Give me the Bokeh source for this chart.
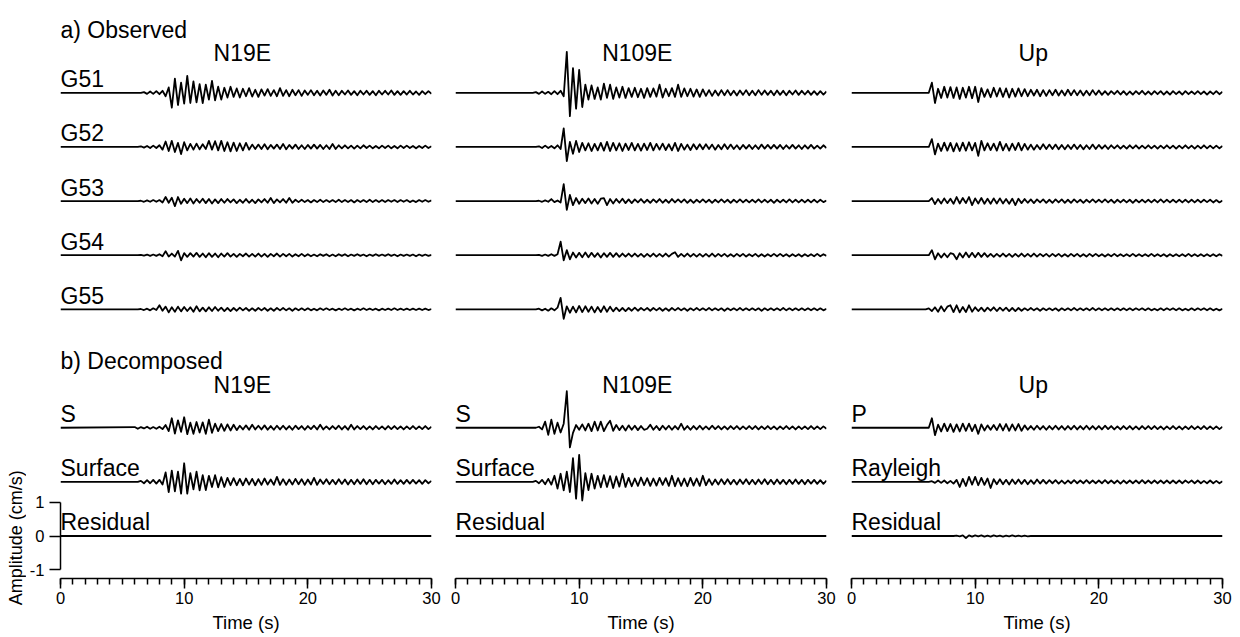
import math
from bokeh.plotting import figure
from bokeh.layouts import row
from bokeh.models import Range1d, FixedTicker, SingleIntervalTicker
from bokeh.core.properties import value
from bokeh.embed import file_html
from bokeh.resources import INLINE

FONT = "Liberation Sans"

# ---------------- data ----------------
# every trace is sampled from T_START to 30 s every DT seconds and is at rest before
T_START = 6.0
DT = 0.25
UNIT = 0.01   # amplitudes below are stored in 0.01 cm/s

components = ["N19E", "N109E", "Up"]
stations = ["G51", "G52", "G53", "G54", "G55"]
decomposed_names = [["S", "Surface", "Residual"],
                    ["S", "Surface", "Residual"],
                    ["P", "Rayleigh", "Residual"]]
amp_ticks = [-1, 0, 1]
amp_tick_labels = ["-1", "0", "1"]

G51_N19E = [0, 0, 0, 2, -3, 4, -3, 5,
            -4, 6, -10, 16, -44, 42, -36, 30,
            -32, 50, -30, 34, -28, 26, -30, 24,
            -20, 35, -22, 18, -20, 15, -14, 18,
            -12, 13, -14, 12, -10, 14, -11, 9,
            -12, 10, -8, 11, -9, 8, -10, 14,
            -9, 8, -10, 9, -7, 8, -9, 7,
            -6, 8, -7, 6, -8, 7, -6, 9,
            -8, 6, -7, 6, -5, 7, -6, 5,
            -7, 6, -5, 6, -6, 5, -7, 6,
            -5, 6, -5, 7, -6, 5, -6, 5,
            -5, 6, -5, 4, -6, 5, -4, 5,
            -3]
G52_N19E = [0, 0, 2, -2, 3, -3, 4, -3,
            5, -8, 16, -12, 18, -15, 12, -21,
            14, -10, 9, -8, 10, -7, 8, -6,
            18, -8, 17, -10, 18, -12, 14, -13,
            13, -12, 11, -10, 12, -8, 7, -6,
            7, -6, 8, -7, 6, -5, 7, -6,
            9, -7, 6, -5, 7, -6, 5, -6,
            6, -5, 7, -5, 6, -6, 5, -6,
            9, -6, 5, -4, 5, -4, 4, -5,
            4, -4, 5, -3, 4, -4, 3, -4,
            4, -3, 4, -4, 3, -4, 4, -3,
            4, -3, 3, -4, 3, -3, 4, -3,
            2]
G53_N19E = [0, 0, 1, -2, 2, -2, 3, -2,
            3, -4, 12, -5, 10, -15, 12, -8,
            7, -6, 8, -7, 6, -5, 7, -6,
            6, -7, 5, -6, 6, -5, 6, -4,
            5, -6, 4, -5, 6, -5, 4, -6,
            5, -4, 6, -5, 9, -6, 5, -4,
            6, -5, 9, -5, 4, -3, 4, -3,
            3, -4, 3, -3, 4, -3, 3, -3,
            3, -3, 4, -3, 3, -3, 3, -4,
            3, -3, 3, -3, 4, -3, 3, -3,
            3, -3, 3, -2, 3, -3, 3, -2,
            3, -3, 2, -3, 3, -2, 3, -2,
            2]
G54_N19E = [0, 0, 1, -1, 2, -2, 2, -2,
            3, -3, 12, -4, 5, -4, 13, -15,
            6, -5, 6, -4, 7, -5, 5, -6,
            6, -5, 5, -6, 5, -4, 6, -4,
            4, -5, 4, -3, 5, -4, 4, -4,
            5, -4, 4, -5, 4, -3, 5, -4,
            4, -3, 4, -4, 3, -3, 4, -3,
            3, -3, 2, -3, 3, -2, 3, -3,
            2, -3, 3, -2, 3, -3, 2, -2,
            3, -2, 2, -3, 2, -2, 3, -2,
            2, -2, 3, -2, 2, -3, 2, -2,
            2, -2, 2, -3, 2, -2, 2, -2,
            1]
G55_N19E = [0, 0, 1, -2, 2, -3, 3, -2,
            12, -4, 8, -9, 6, -7, 8, -6,
            7, -5, 6, -7, 9, -6, 5, -6,
            6, -5, 7, -4, 5, -5, 4, -5,
            4, -4, 5, -3, 4, -4, 3, -4,
            4, -3, 4, -4, 3, -4, 4, -3,
            4, -3, 3, -4, 3, -3, 3, -3,
            3, -3, 2, -3, 3, -2, 3, -2,
            2, -3, 2, -2, 3, -2, 2, -3,
            2, -2, 3, -2, 2, -2, 2, -3,
            2, -2, 2, -2, 3, -2, 2, -2,
            2, -2, 2, -2, 2, -2, 2, -2,
            1]
S_N19E = [2, -3, 2, -2, 3, -3, 2, -3,
          3, -4, 8, -10, 28, -17, 22, -12,
          31, -19, 15, -18, 17, -14, 16, -18,
          24, -15, 12, -10, 11, -9, 10, -8,
          9, -7, 6, -5, 7, -6, 9, -5,
          6, -5, 7, -6, 5, -6, 6, -5,
          6, -5, 5, -6, 6, -4, 5, -6,
          5, -4, 6, -5, 9, -5, 4, -5,
          5, -4, 6, -5, 5, -6, 9, -5,
          5, -4, 5, -5, 4, -5, 5, -4,
          4, -5, 5, -4, 5, -4, 4, -5,
          4, -4, 5, -4, 4, -4, 5, -4,
          3]
SURF_N19E = [0, 0, 3, -4, 5, -4, 6, -5,
             6, -8, 28, -30, 33, -28, 30, -35,
             55, -35, 26, -22, 30, -25, 20, -24,
             18, -15, 20, -16, 14, -15, 12, -10,
             11, -10, 9, -10, 10, -8, 9, -10,
             8, -9, 10, -8, 7, -9, 15, -9,
             8, -9, 7, -8, 9, -7, 8, -9,
             7, -8, 12, -9, 7, -6, 8, -7,
             6, -7, 8, -6, 7, -8, 6, -7,
             7, -6, 8, -7, 6, -7, 6, -5,
             6, -7, 5, -6, 7, -6, 5, -6,
             6, -5, 6, -5, 5, -6, 5, -4,
             3]
RES_N19E = [0, 0, 0, 0, 0, 0, 0, 0,
            0, 0, 0, 0, 0, 0, 0, 0,
            0, 0, 0, 0, 0, 0, 0, 0,
            0, 0, 0, 0, 0, 0, 0, 0,
            0, 0, 0, 0, 0, 0, 0, 0,
            0, 0, 0, 0, 0, 0, 0, 0,
            0, 0, 0, 0, 0, 0, 0, 0,
            0, 0, 0, 0, 0, 0, 0, 0,
            0, 0, 0, 0, 0, 0, 0, 0,
            0, 0, 0, 0, 0, 0, 0, 0,
            0, 0, 0, 0, 0, 0, 0, 0,
            0, 0, 0, 0, 0, 0, 0, 0,
            0]

G51_N109E = [0, 0, 2, -3, 4, -3, 3, -4,
             5, -4, 6, -10, 121, -69, 73, -47,
             68, -42, 24, -20, 22, -18, 16, -20,
             27, -15, 24, -18, 16, -14, 18, -15,
             14, -12, 15, -13, 12, -15, 14, -12,
             13, -11, 24, -14, 12, -10, 14, -12,
             24, -12, 13, -10, 12, -11, 10, -12,
             10, -9, 8, -9, 7, -8, 8, -7,
             8, -7, 6, -8, 7, -6, 8, -7,
             6, -7, 8, -6, 7, -6, 6, -7,
             7, -6, 6, -7, 6, -5, 7, -6,
             6, -5, 6, -6, 5, -6, 5, -5,
             4]
G52_N109E = [0, 0, 0, 2, -3, 4, -3, 3,
             -4, 5, -6, 55, -42, 15, -20, 18,
             -15, 12, -10, 11, -12, 9, -10, 12,
             -11, 15, -12, 12, -10, 11, -12, 10,
             -9, 12, -10, 9, -11, 10, -9, 12,
             -10, 9, -8, 10, -9, 8, -10, 12,
             -12, 9, -8, 7, -9, 8, -7, 8,
             -7, 8, -6, 7, -8, 6, -7, 8,
             -6, 7, -6, 5, -7, 6, -5, 6,
             -6, 5, -6, 7, -5, 6, -5, 6,
             -5, 6, -6, 5, -5, 6, -5, 5,
             -6, 5, -5, 6, -5, 4, -5, 5,
             -3]
G53_N109E = [0, 0, 0, 1, -2, 2, -2, 6,
             -3, 2, -4, 50, -26, 18, -12, 9,
             -8, 7, -6, 8, -7, 6, -8, 7,
             9, -12, 6, -7, 6, -5, 7, -6,
             5, -6, 5, -4, 6, -5, 4, -5,
             5, -4, 6, -5, 4, -5, 6, -4,
             5, -4, 5, -5, 4, -5, 4, -4,
             5, -4, 4, -5, 4, -4, 5, -4,
             4, -5, 4, -4, 5, -4, 4, -4,
             4, -4, 5, -4, 4, -4, 4, -5,
             4, -4, 4, -4, 5, -4, 4, -4,
             4, -4, 4, -4, 4, -4, 4, -3,
             2]
G54_N109E = [0, 0, 0, 1, -2, 2, -2, 3,
             -2, 3, 40, -15, 15, -12, 8, -7,
             7, -6, 8, -6, 7, -5, 6, -7,
             6, -5, 7, -5, 6, -5, 5, -4,
             5, -4, 5, -4, 4, -5, 4, -4,
             5, -4, 4, -4, 5, -4, 4, 9,
             -5, 4, -4, 5, -4, 4, -4, 4,
             -4, 4, -4, 5, -4, 4, -3, 4,
             -4, 3, -4, 4, -3, 4, -4, 3,
             -3, 4, -4, 3, -4, 3, -3, 4,
             -3, 4, -3, 3, -4, 3, -3, 3,
             -4, 3, -3, 3, -3, 4, -3, 3,
             -2]
G55_N109E = [0, 0, 0, 2, -3, 2, -4, 3,
             -3, 5, 34, -28, 9, -10, 8, -9,
             10, -8, 9, -7, 8, -9, 7, -8,
             9, -7, 8, -6, 5, -5, 4, -5,
             4, -4, 5, -4, 4, -3, 4, -4,
             4, -3, 4, -4, 3, -4, 4, -3,
             4, -3, 3, -4, 3, -3, 4, -3,
             3, -3, 4, -3, 3, -3, 3, -4,
             3, -3, 3, -3, 4, -3, 3, -3,
             3, -3, 3, -4, 3, -3, 3, -3,
             3, -3, 4, -3, 3, -3, 3, -3,
             3, -3, 3, -3, 3, -3, 3, -3,
             2]
S_N109E = [0, 0, 0, 3, -5, 18, -21, 24,
           -18, 15, -14, 12, 108, -58, -15, 8,
           -6, 10, -8, 12, -10, 18, -8, 18,
           -10, 8, 21, -9, 8, -7, 6, -8,
           7, -6, 6, -7, 5, -6, -3, 9,
           -6, 5, -7, 6, -5, 6, -6, 5,
           -5, 12, -6, 5, -6, 5, -5, 6,
           -5, 4, -5, 6, -4, 5, -5, 4,
           -5, 5, -4, 5, -5, 4, -4, 5,
           -4, 5, -5, 4, -4, 5, -4, 4,
           -5, 4, -4, 5, -4, 4, -5, 4,
           -4, 4, -4, 5, -4, 4, -4, 4,
           -3]
SURF_N109E = [0, 0, 3, -4, 6, -7, 9, -8,
              18, -20, 24, -25, 30, -30, 70, -50,
              80, -55, 26, -24, 24, -20, 18, -16,
              20, -15, 17, -18, 16, -14, 24, -15,
              12, -13, 10, -12, 13, -10, 11, -12,
              10, -11, 12, -9, 11, -12, 18, -13,
              11, -12, 10, -13, 12, -11, 10, -12,
              18, -10, 8, -9, 7, -8, 8, -7,
              8, -7, 6, -8, 7, -6, 8, -7,
              6, -7, 7, -6, 8, -7, 6, -7,
              7, -6, 6, -7, 6, -6, 7, -6,
              6, -7, 6, -5, 6, -6, 5, -6,
              4]
RES_N109E = [0, 0, 0, 0, 0, 0, 0, 0,
             0, 0, 0, 0, 0, 0, 0, 0,
             0, 0, 0, 0, 0, 0, 0, 0,
             0, 0, 0, 0, 0, 0, 0, 0,
             0, 0, 0, 0, 0, 0, 0, 0,
             0, 0, 0, 0, 0, 0, 0, 0,
             0, 0, 0, 0, 0, 0, 0, 0,
             0, 0, 0, 0, 0, 0, 0, 0,
             0, 0, 0, 0, 0, 0, 0, 0,
             0, 0, 0, 0, 0, 0, 0, 0,
             0, 0, 0, 0, 0, 0, 0, 0,
             0, 0, 0, 0, 0, 0, 0, 0,
             0]

G51_UP = [0, 0, 30, -30, 12, -15, 18, -14,
          17, -15, 16, -18, 15, -14, 18, -16,
          18, -27, 14, -12, 10, -13, 15, -11,
          14, -12, 13, -14, 12, -11, 13, -10,
          11, -10, 9, -8, 9, -10, 8, -9,
          8, -7, 9, -8, 7, -8, 9, -7,
          8, -7, 7, -8, 6, -7, 8, -6,
          7, -6, 5, -6, 5, -4, 6, -5,
          5, -6, 4, -5, 5, -4, 6, -5,
          4, -5, 5, -4, 5, -5, 4, -5,
          5, -4, 4, -5, 5, -4, 4, -4,
          5, -4, 4, -5, 4, -4, 5, -4,
          3]
G52_UP = [0, 0, 23, -22, 10, -12, 13, -11,
          12, -13, 11, -12, 13, -11, 14, -10,
          12, -26, 18, -10, 11, -9, 10, -11,
          15, -10, 9, -11, 10, -9, 12, -10,
          9, -8, 7, -8, 6, -7, 8, -6,
          7, -6, 7, -7, 6, -7, 6, -6,
          7, -6, 6, -7, 5, -6, 7, -6,
          6, -5, 5, -6, 5, -4, 5, -5,
          4, -5, 5, -4, 5, -5, 4, -4,
          5, -4, 4, -5, 4, -4, 5, -4,
          4, -5, 4, -4, 5, -4, 4, -5,
          4, -4, 5, -4, 4, -4, 4, -4,
          3]
G53_UP = [0, 0, 9, -9, 6, -7, 8, -6,
          7, -8, 12, -7, 9, -6, 12, -12,
          8, -7, 9, -8, 7, -8, 8, -7,
          8, -7, 6, -8, 7, -12, 7, -6,
          6, -5, 5, -6, 5, -4, 5, -5,
          4, -5, 5, -4, 5, -5, 4, -5,
          5, -4, 4, -5, 4, -4, 5, -4,
          4, -4, 5, -4, 4, -5, 4, -4,
          4, -4, 4, -5, 4, -4, 4, -4,
          4, -4, 4, -4, 5, -4, 4, -4,
          4, -4, 4, -4, 4, -4, 4, -4,
          4, -4, 4, -3, 4, -4, 3, -4,
          2]
G54_UP = [0, 0, 15, -12, 6, -7, 5, -6,
          6, 3, -12, 6, -7, 8, -6, 7,
          -6, 7, -5, 6, -5, 4, -5, 4,
          -4, 5, -4, 4, -5, 4, -4, 5,
          -4, 4, -4, 5, -4, 4, -3, 4,
          -4, 4, -3, 4, -4, 3, -4, 4,
          -3, 4, -4, 3, -4, 4, -3, 4,
          -3, 3, -4, 3, -3, 4, -3, 3,
          -3, 3, -3, 4, -3, 3, -3, 3,
          -3, 4, -3, 3, -3, 3, -4, 3,
          -3, 3, -3, 3, -3, 4, -3, 3,
          -3, 3, -3, 3, -3, 3, -3, 3,
          -2]
G55_UP = [0, 3, -5, 6, -7, 9, -6, 8,
          12, -8, 12, -9, 7, -8, 12, -7,
          6, -5, 5, -6, 5, -4, 6, -5,
          5, -4, 5, -5, 4, -5, 4, -4,
          3, -3, 4, -3, 3, -4, 3, -3,
          3, -3, 3, -4, 3, -3, 3, -3,
          4, -3, 3, -3, 3, -3, 4, -3,
          3, -3, 3, -3, 3, -3, 3, -3,
          3, -3, 3, -3, 3, -2, 3, -3,
          3, -3, 2, -3, 3, -3, 3, -2,
          3, -3, 3, -3, 2, -3, 3, -3,
          3, -2, 3, -3, 3, -3, 2, -3,
          2]
P_UP = [0, 0, 28, -22, 9, -11, 12, -10,
        11, -12, 10, -11, 12, -9, 12, -10,
        9, -18, 10, -8, 7, -6, 8, -7,
        11, -8, 11, -9, 10, -8, 11, -9,
        7, -6, 5, -6, 6, -5, 5, -6,
        5, -5, 6, -5, 5, -6, 5, -5,
        6, -5, 5, -5, 6, -5, 5, -5,
        5, -5, 6, -4, 5, -5, 4, -5,
        5, -4, 5, -5, 4, -5, 5, -4,
        5, -4, 5, -4, 4, -5, 4, -4,
        5, -4, 4, -5, 4, -4, 5, -4,
        4, -4, 5, -4, 4, -4, 4, -4,
        3]
RAY_UP = [0, 0, 2, -3, 4, -3, 4, -4,
          3, -5, 6, -15, 9, -12, 15, -8,
          15, -10, 12, -9, 10, -18, 8, -7,
          8, -7, 6, -8, 7, -6, 7, -6,
          6, -7, 5, -6, 7, -5, 6, -5,
          5, -4, 5, -5, 4, -5, 4, -4,
          5, -4, 4, -4, 5, -4, 4, -4,
          4, -4, 5, -4, 4, -4, 4, -5,
          4, -4, 4, -4, 4, -4, 5, -4,
          4, -4, 4, -4, 4, -4, 4, -4,
          4, -4, 4, -4, 4, -3, 4, -4,
          4, -4, 3, -4, 4, -4, 3, -4,
          2]
RES_UP = [0, 0, 0, 0, 0, 0, 0, 0,
          0, 0, 1, -1, 2, -6, 2, -2,
          2, -1, 2, -2, 1, -2, 2, -1,
          1, -2, 1, -1, 2, -1, 1, -1,
          1, -1, 0, 0, 0, 0, 0, 0,
          0, 0, 0, 0, 0, 0, 0, 0,
          0, 0, 0, 0, 0, 0, 0, 0,
          0, 0, 0, 0, 0, 0, 0, 0,
          0, 0, 0, 0, 0, 0, 0, 0,
          0, 0, 0, 0, 0, 0, 0, 0,
          0, 0, 0, 0, 0, 0, 0, 0,
          0, 0, 0, 0, 0, 0, 0, 0,
          0]

observed = [[G51_N19E, G52_N19E, G53_N19E, G54_N19E, G55_N19E],
            [G51_N109E, G52_N109E, G53_N109E, G54_N109E, G55_N109E],
            [G51_UP, G52_UP, G53_UP, G54_UP, G55_UP]]
decomposed = [[S_N19E, SURF_N19E, RES_N19E],
              [S_N109E, SURF_N109E, RES_N109E],
              [P_UP, RAY_UP, RES_UP]]

# ---------------- layout (cm/s offsets of each record, screen sizes) ----------------
OBS_BASE = [13.1, 11.5, 9.9, 8.3, 6.7]
DEC_BASE = [3.2, 1.6, 0.0]
LABEL_LIFT = 0.4
OBS_TITLE_Y, OBS_HEAD_Y = 14.27, 14.96
DEC_TITLE_Y, DEC_HEAD_Y = 4.45, 5.17
TITLE_X = 14.7
Y0, Y1 = -1.256, 15.593
FRAME_W, FRAME_H = 371, 570
PX_PER_UNIT = FRAME_H / (Y1 - Y0)
TOP, BOTTOM = 8, 59
BORDERS = [(32, 12), (12, 12), (13, 10)]
LEFT_STRIP = 26
LABEL_SIZE = "23px"


def trace_xy(vals, base):
    xs = [0.0]
    ys = [base]
    for k, v in enumerate(vals):
        t = T_START + DT * k
        if t > 30.0001:
            break
        xs.append(t)
        ys.append(base + v * UNIT)
    return xs, ys


def clean(p):
    p.background_fill_color = "white"
    p.border_fill_color = "white"
    p.outline_line_color = None
    p.grid.visible = False


# narrow strip carrying the rotated amplitude-axis title (frame reaches the bottom edge)
p0 = figure(title=None, frame_width=LEFT_STRIP, frame_height=FRAME_H + BOTTOM,
            x_range=Range1d(0, LEFT_STRIP),
            y_range=Range1d(Y0 - BOTTOM / PX_PER_UNIT, Y1),
            output_backend="svg", toolbar_location=None, tools="",
            x_axis_location=None, y_axis_location=None, min_border=0,
            min_border_left=0, min_border_right=0,
            min_border_top=TOP, min_border_bottom=0)
clean(p0)
p0.text(x=[15.3], y=[-0.05], text=["Amplitude (cm/s)"], angle=[math.pi / 2],
        text_font=value(FONT), text_font_size=value("18px"), text_color="black",
        text_align="center", text_baseline="middle")

figs = [p0]
for ci, comp in enumerate(components):
    bl, br = BORDERS[ci]
    p = figure(title=None, frame_width=FRAME_W, frame_height=FRAME_H,
               x_range=Range1d(0, 30), y_range=Range1d(Y0, Y1),
               output_backend="svg", toolbar_location=None, tools="",
               y_axis_location="left" if ci == 0 else None,
               min_border_left=bl, min_border_right=br,
               min_border_top=TOP, min_border_bottom=BOTTOM)
    clean(p)

    xa = p.xaxis[0]
    xa.ticker = SingleIntervalTicker(interval=10, num_minor_ticks=10)
    xa.major_tick_in = 0
    xa.major_tick_out = 10
    xa.minor_tick_in = 0
    xa.minor_tick_out = 6
    for a in ("axis_line", "major_tick_line", "minor_tick_line"):
        setattr(xa, a + "_width", 1.5)
        setattr(xa, a + "_color", "black")
    xa.major_label_text_font = FONT
    xa.major_label_text_font_size = "16.5px"
    xa.major_label_text_color = "black"
    xa.major_label_standoff = 3
    xa.axis_label = "Time (s)"
    xa.axis_label_text_font = FONT
    xa.axis_label_text_font_size = "18.5px"
    xa.axis_label_text_font_style = "normal"
    xa.axis_label_text_color = "black"
    xa.axis_label_standoff = 5

    if ci == 0:
        ya = p.yaxis[0]
        ya.bounds = (amp_ticks[0], amp_ticks[-1])
        ya.ticker = FixedTicker(ticks=amp_ticks)
        ya.major_label_overrides = {t: s for t, s in zip(amp_ticks, amp_tick_labels)}
        ya.major_tick_in = 0
        ya.major_tick_out = 11
        ya.minor_tick_in = 0
        ya.minor_tick_out = 0
        ya.axis_line_width = 1.5
        ya.major_tick_line_width = 1.5
        ya.axis_line_color = "black"
        ya.major_tick_line_color = "black"
        ya.major_label_text_font = FONT
        ya.major_label_text_font_size = "16.5px"
        ya.major_label_text_color = "black"
        ya.major_label_standoff = 5
        ya.axis_label = None

    # traces
    mxs, mys = [], []
    for vals, base in zip(observed[ci], OBS_BASE):
        xs, ys = trace_xy(vals, base)
        mxs.append(xs)
        mys.append(ys)
    for vals, base in zip(decomposed[ci], DEC_BASE):
        xs, ys = trace_xy(vals, base)
        mxs.append(xs)
        mys.append(ys)
    p.multi_line(xs=mxs, ys=mys, line_color="black", line_width=1.8, line_join="round")

    # row labels
    lx, ly, lt = [], [], []
    if ci == 0:
        for s, b in zip(stations, OBS_BASE):
            lx.append(0.0); ly.append(b + LABEL_LIFT); lt.append(s)
    for s, b in zip(decomposed_names[ci], DEC_BASE):
        lx.append(0.0); ly.append(b + LABEL_LIFT); lt.append(s)
    if ci == 0:
        lx += [0.0, 0.0]; ly += [OBS_HEAD_Y, DEC_HEAD_Y]; lt += ["a) Observed", "b) Decomposed"]
    p.text(x=lx, y=ly, text=lt, text_font=value(FONT), text_font_size=value(LABEL_SIZE),
           text_color="black", text_align="left", text_baseline="alphabetic")
    # component titles
    p.text(x=[TITLE_X, TITLE_X], y=[OBS_TITLE_Y, DEC_TITLE_Y], text=[comp, comp],
           text_font=value(FONT), text_font_size=value(LABEL_SIZE),
           text_color="black", text_align="center", text_baseline="alphabetic")
    figs.append(p)

layout = row(*figs)
open("out.html", "w").write(file_html(layout, INLINE))
